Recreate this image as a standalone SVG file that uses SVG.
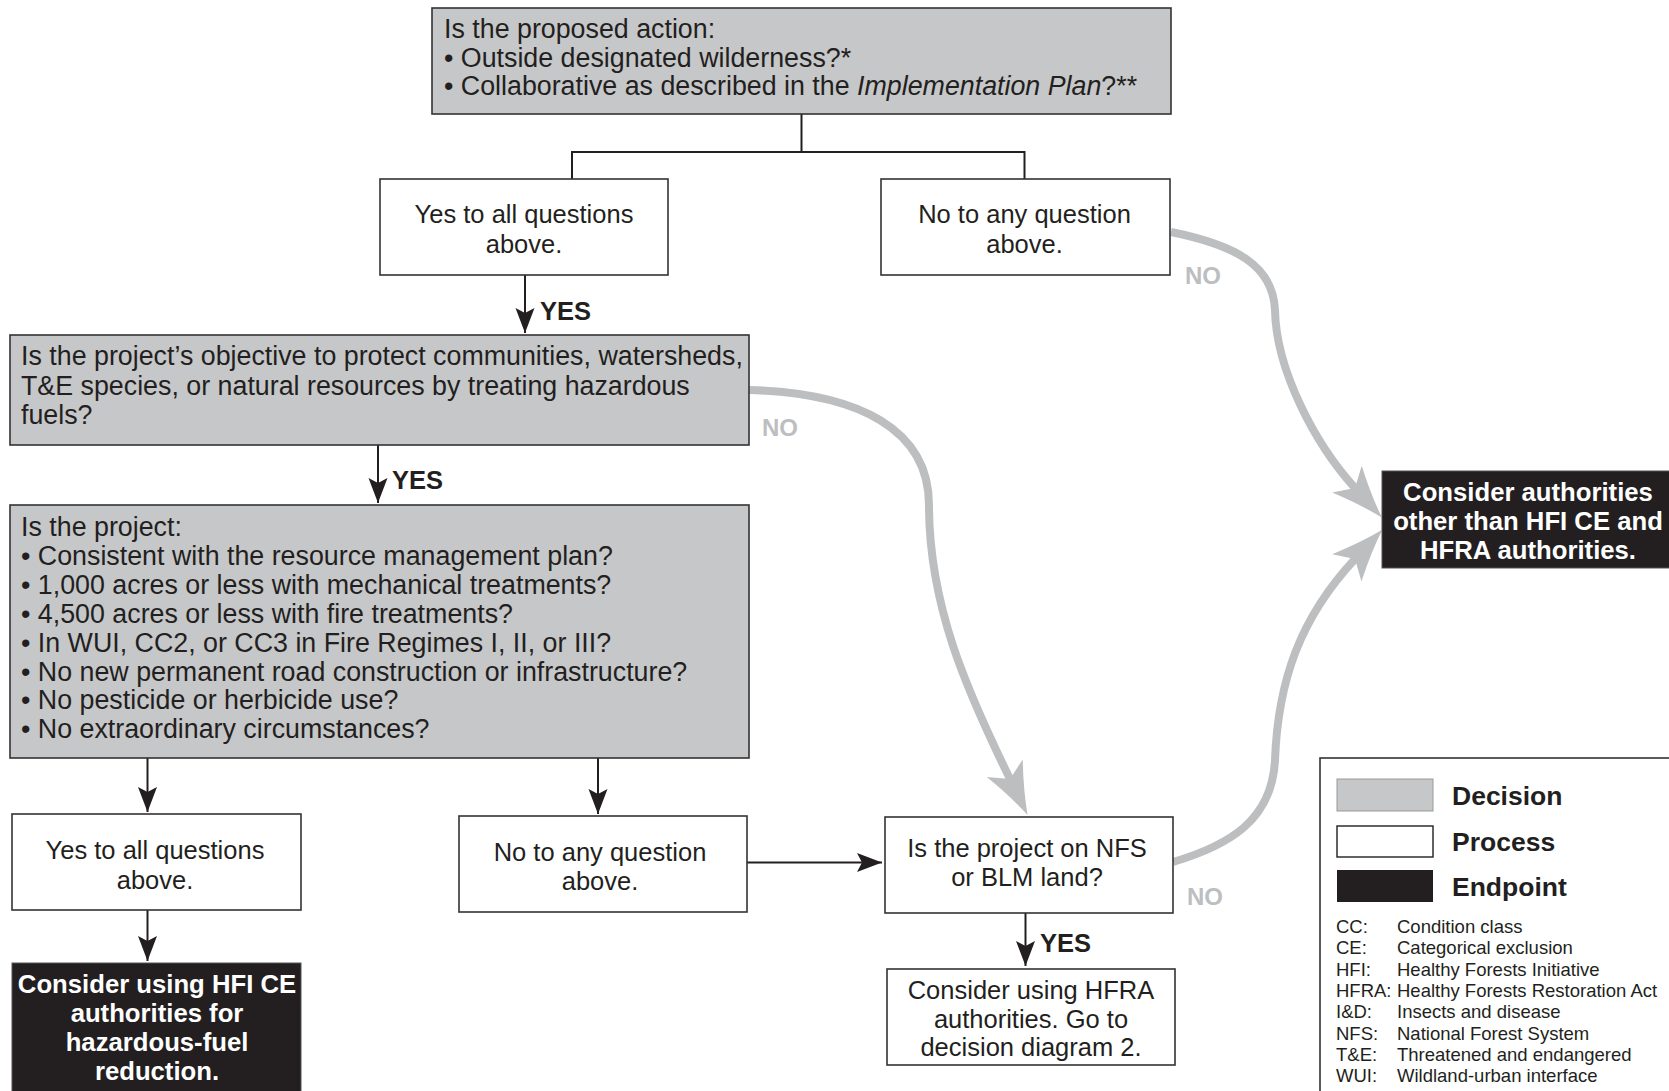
<svg xmlns="http://www.w3.org/2000/svg" width="1669" height="1091" viewBox="0 0 1669 1091">
<style>
text{font-family:"Liberation Sans",Arial,Helvetica,sans-serif;fill:#231f20}
.dec{fill:#c6c7c9;stroke:#333;stroke-width:1.6}
.proc{fill:#fff;stroke:#333;stroke-width:1.6}
.end{fill:#231f20;stroke:#555;stroke-width:1}
.g{font-size:26.8px}
.w{font-size:25.5px;text-anchor:middle}
.e{font-size:25.7px;font-weight:bold;fill:#fff;text-anchor:middle}
.yes{font-size:25.5px;font-weight:bold}
.no{font-size:24px;font-weight:bold;fill:#bcbec0;text-anchor:middle}
.lg{font-size:26.5px;font-weight:bold}
.ab{font-size:18.5px}
.ln{fill:none;stroke:#231f20;stroke-width:2}
.gl{fill:none;stroke:#bcbec0;stroke-width:8}
</style>
<defs>
<marker id="ah" markerUnits="userSpaceOnUse" viewBox="-27 -12 29 24" markerWidth="29" markerHeight="24" refX="0" refY="0" orient="auto">
<path d="M0,0 L-25,-9.5 L-20,0 L-25,9.5 Z" fill="#231f20"/>
</marker>
<marker id="gh" markerUnits="userSpaceOnUse" viewBox="-14 -22 56 44" markerWidth="56" markerHeight="44" refX="0" refY="0" orient="auto">
<path d="M40,0 Q16,-7 -12,-20 L0,0 L-12,20 Q16,7 40,0 Z" fill="#bcbec0"/>
</marker>
</defs>
<rect width="1669" height="1091" fill="#fff"/>

<g id="connectors">
<path class="ln" d="M801.5,114 V152 M572,179 V152 H1024.5 V179"/>
<path class="ln" d="M525,275 V333" marker-end="url(#ah)"/>
<path class="ln" d="M378,445 V503" marker-end="url(#ah)"/>
<path class="ln" d="M147.5,758 V812" marker-end="url(#ah)"/>
<path class="ln" d="M598,758 V814" marker-end="url(#ah)"/>
<path class="ln" d="M147.5,910 V961" marker-end="url(#ah)"/>
<path class="ln" d="M747,862.5 H882" marker-end="url(#ah)"/>
<path class="ln" d="M1025.5,913 V966" marker-end="url(#ah)"/>
<path class="gl" d="M749,390 C860,393 929,430 929,505 C929,605 966,689 1010,779" marker-end="url(#gh)"/>
<path class="gl" d="M1171,232 C1235,245 1273,265 1275,310 C1276,370 1315,444 1355,488" marker-end="url(#gh)"/>
<path class="gl" d="M1173,862 C1230,845 1272,820 1275,760 C1278,680 1300.6,617.4 1355,559" marker-end="url(#gh)"/>
<text class="yes" x="540" y="320">YES</text>
<text class="yes" x="392" y="489">YES</text>
<text class="yes" x="1040" y="952">YES</text>
<text class="no" x="1203" y="284">NO</text>
<text class="no" x="780" y="436">NO</text>
<text class="no" x="1205" y="905">NO</text>
</g>

<g id="n-top">
<rect class="dec" x="432" y="8" width="739" height="106"/>
<text class="g" x="444" y="38">Is the proposed action:</text>
<text class="g" x="444" y="66.5">• Outside designated wilderness?*</text>
<text class="g" x="444" y="95">• Collaborative as described in the <tspan font-style="italic">Implementation Plan</tspan>?**</text>
</g>

<g id="n-yes1">
<rect class="proc" x="380" y="179" width="288" height="96"/>
<text class="w" x="524" y="223">Yes to all questions</text>
<text class="w" x="524" y="253">above.</text>
</g>

<g id="n-no1">
<rect class="proc" x="881" y="179" width="289" height="96"/>
<text class="w" x="1024.5" y="223">No to any question</text>
<text class="w" x="1024.5" y="253">above.</text>
</g>

<g id="n-objective">
<rect class="dec" x="10" y="335" width="739" height="110"/>
<text class="g" x="21" y="365">Is the project’s objective to protect communities, watersheds,</text>
<text class="g" x="21" y="394.5">T&amp;E species, or natural resources by treating hazardous</text>
<text class="g" x="21" y="424">fuels?</text>
</g>

<g id="n-criteria">
<rect class="dec" x="10" y="505" width="739" height="253"/>
<text class="g" x="21" y="536">Is the project:</text>
<text class="g" x="21" y="565">• Consistent with the resource management plan?</text>
<text class="g" x="21" y="594">• 1,000 acres or less with mechanical treatments?</text>
<text class="g" x="21" y="623">• 4,500 acres or less with fire treatments?</text>
<text class="g" x="21" y="652">• In WUI, CC2, or CC3 in Fire Regimes I, II, or III?</text>
<text class="g" x="21" y="680.5">• No new permanent road construction or infrastructure?</text>
<text class="g" x="21" y="709">• No pesticide or herbicide use?</text>
<text class="g" x="21" y="738">• No extraordinary circumstances?</text>
</g>

<g id="n-yes2">
<rect class="proc" x="12" y="814" width="289" height="96"/>
<text class="w" x="155" y="859">Yes to all questions</text>
<text class="w" x="155" y="889">above.</text>
</g>

<g id="n-no2">
<rect class="proc" x="459" y="816" width="288" height="96"/>
<text class="w" x="600" y="861">No to any question</text>
<text class="w" x="600" y="890">above.</text>
</g>

<g id="n-nfs">
<rect class="proc" x="885" y="817" width="288" height="96"/>
<text class="w" x="1027" y="857">Is the project on NFS</text>
<text class="w" x="1027" y="886">or BLM land?</text>
</g>

<g id="n-hfra">
<rect class="proc" x="887" y="969" width="288" height="96"/>
<text class="w" x="1031" y="999">Consider using HFRA</text>
<text class="w" x="1031" y="1027.5">authorities. Go to</text>
<text class="w" x="1031" y="1056">decision diagram 2.</text>
</g>

<g id="n-hfice">
<rect class="end" x="12" y="963" width="289" height="140"/>
<text class="e" x="157" y="993">Consider using HFI CE</text>
<text class="e" x="157" y="1022">authorities for</text>
<text class="e" x="157" y="1051">hazardous-fuel</text>
<text class="e" x="157" y="1080">reduction.</text>
</g>

<g id="n-other">
<rect class="end" x="1382" y="471" width="300" height="97"/>
<text class="e" x="1528" y="501">Consider authorities</text>
<text class="e" x="1528" y="530">other than HFI CE and</text>
<text class="e" x="1528" y="559">HFRA authorities.</text>
</g>

<g id="legend">
<rect x="1320" y="758" width="360" height="350" fill="#fff" stroke="#333" stroke-width="1.6"/>
<rect x="1337" y="779" width="96" height="32" fill="#c6c7c9" stroke="#999" stroke-width="1"/>
<rect x="1337" y="826" width="96" height="31" fill="#fff" stroke="#231f20" stroke-width="1.4"/>
<rect x="1337" y="870" width="96" height="32" fill="#231f20"/>
<text class="lg" x="1452" y="805">Decision</text>
<text class="lg" x="1452" y="851">Process</text>
<text class="lg" x="1452" y="896">Endpoint</text>
<text class="ab" x="1336" y="933">CC:</text><text class="ab" x="1397" y="933">Condition class</text>
<text class="ab" x="1336" y="954.3">CE:</text><text class="ab" x="1397" y="954.3">Categorical exclusion</text>
<text class="ab" x="1336" y="975.6">HFI:</text><text class="ab" x="1397" y="975.6">Healthy Forests Initiative</text>
<text class="ab" x="1336" y="996.9">HFRA:</text><text class="ab" x="1397" y="996.9">Healthy Forests Restoration Act</text>
<text class="ab" x="1336" y="1018.2">I&amp;D:</text><text class="ab" x="1397" y="1018.2">Insects and disease</text>
<text class="ab" x="1336" y="1039.5">NFS:</text><text class="ab" x="1397" y="1039.5">National Forest System</text>
<text class="ab" x="1336" y="1060.8">T&amp;E:</text><text class="ab" x="1397" y="1060.8">Threatened and endangered</text>
<text class="ab" x="1336" y="1082.1">WUI:</text><text class="ab" x="1397" y="1082.1">Wildland-urban interface</text>
</g>
</svg>
